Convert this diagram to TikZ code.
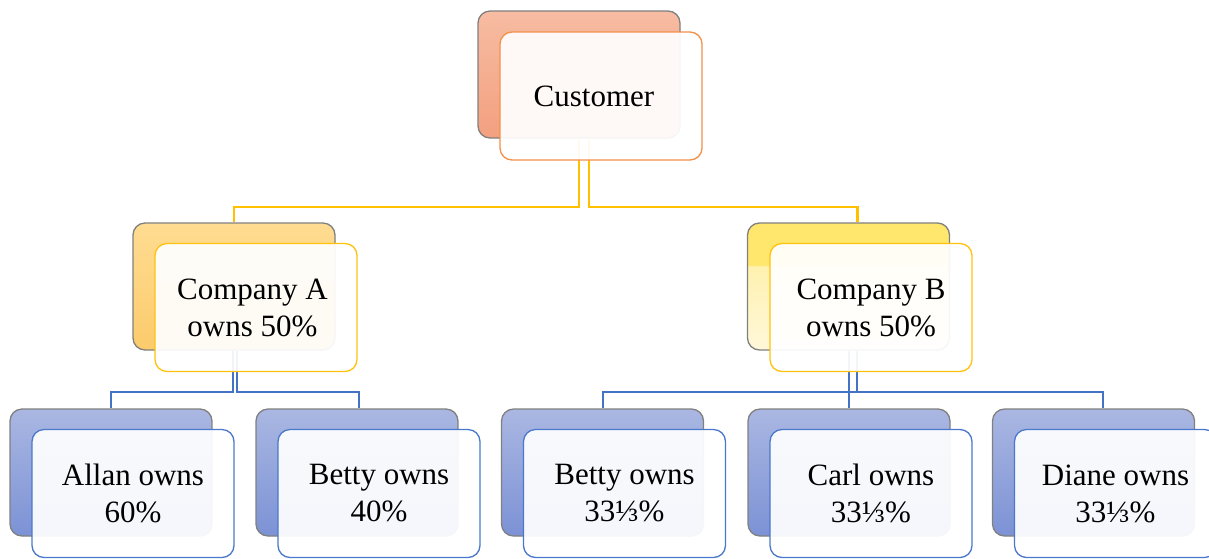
\documentclass[tikz,border=0pt]{standalone}
\usepackage{fontspec}
\setmainfont{Liberation Serif}
\definecolor{custTop}{HTML}{F7BCA2}
\definecolor{custBot}{HTML}{F3A07F}
\definecolor{custBorder}{HTML}{F4904A}
\definecolor{aTop}{HTML}{FFDC92}
\definecolor{aBot}{HTML}{FBCB6B}
\definecolor{bTop}{HTML}{FFE66C}
\definecolor{bMid}{HTML}{FFF1B0}
\definecolor{bBot}{HTML}{FFF8DA}
\definecolor{leafTop}{HTML}{AAB7E2}
\definecolor{leafBot}{HTML}{7C92D5}
\definecolor{leafBorder}{HTML}{4A78CC}
\definecolor{gold}{HTML}{FFC20E}
\definecolor{connY}{HTML}{FFC000}
\definecolor{connB}{HTML}{4472C4}
\definecolor{backBorder}{HTML}{808080}
\pgfdeclareverticalshading{yband}{100bp}{color(0bp)=(bBot); color(25bp)=(bBot); color(58bp)=(bMid); color(58.5bp)=(bTop); color(75bp)=(bTop); color(100bp)=(bTop)}
\begin{document}
\begin{tikzpicture}[x=1pt,y=-1pt,
  back/.style={draw=backBorder, line width=1.3pt, rounded corners=12pt,
    minimum width=202pt, minimum height=127pt, inner sep=0pt},
  front/.style={rounded corners=12pt, line width=1.3pt, fill=white,
    fill opacity=0.93, text opacity=1, minimum width=202pt,
    minimum height=128pt, inner sep=0pt, align=center,
    font=\fontsize{31}{37}\selectfont},
  leafback/.style={back, top color=leafTop, bottom color=leafBot},
  leaffront/.style={front, draw=leafBorder},
  yconn/.style={draw=connY, line width=2.5pt},
  bconn/.style={draw=connB, line width=2pt}]
\useasboundingbox (0,0) rectangle (1209,558);
\fill[white] (0,0) rectangle (1209,558);
% back boxes
\node[back, top color=custTop, bottom color=custBot] (cb) at (579,74.5) {};
\node[back, top color=aTop, bottom color=aBot] (ab) at (234,286.5) {};
\node[back, shading=yband] (bb) at (848.5,286.5) {};
\node[leafback] (l1b) at (111,472.5) {};
\node[leafback] (l2b) at (357,472.5) {};
\node[leafback] (l3b) at (602.5,472.5) {};
\node[leafback] (l4b) at (849,472.5) {};
\node[leafback] (l5b) at (1093.5,472.5) {};
% connectors
\coordinate (ybus) at (0,207);
\coordinate (abus) at (0,392);
\draw[yconn] (cb.south) -- (cb.south |- ybus) -| (ab.north);
\draw[yconn] ([xshift=10pt]cb.south) -- ([xshift=10pt]cb.south |- ybus) -| ([xshift=9pt]bb.north);
\draw[bconn] ([xshift=-1pt]ab.south) -- ([xshift=-1pt]ab.south |- abus) -| (l1b.north);
\draw[bconn] ([xshift=3pt]ab.south) -- ([xshift=3pt]ab.south |- abus) -| ([xshift=2pt]l2b.north);
\draw[bconn] (bb.south) -- (bb.south |- l4b.north);
\draw[bconn] ([xshift=8pt]bb.south) -- ([xshift=8pt]bb.south |- abus);
\draw[bconn] (l3b.north) |- ([xshift=9.5pt]l5b.north |- abus) -- ([xshift=9.5pt]l5b.north);
% front boxes
\node[front, draw=custBorder] (cf) at (601,96) {Customer\kern14pt};
\node[front, draw=gold] (af) at (256,307.5) {Company A\kern7pt\\owns 50\%\kern7pt};
\node[front, draw=gold] (bf) at (871,307.5) {Company B\\owns 50\%};
\node[leaffront] (l1f) at (133,493.5) {Allan owns\\60\%};
\node[leaffront] (l2f) at (379,493.5) {Betty owns\\40\%};
\node[leaffront] (l3f) at (624.5,493.5) {Betty owns\\33⅓\%};
\node[leaffront] (l4f) at (871,493.5) {Carl owns\\33⅓\%};
\node[leaffront] (l5f) at (1115.5,493.5) {Diane owns\\33⅓\%};
\end{tikzpicture}
\end{document}
